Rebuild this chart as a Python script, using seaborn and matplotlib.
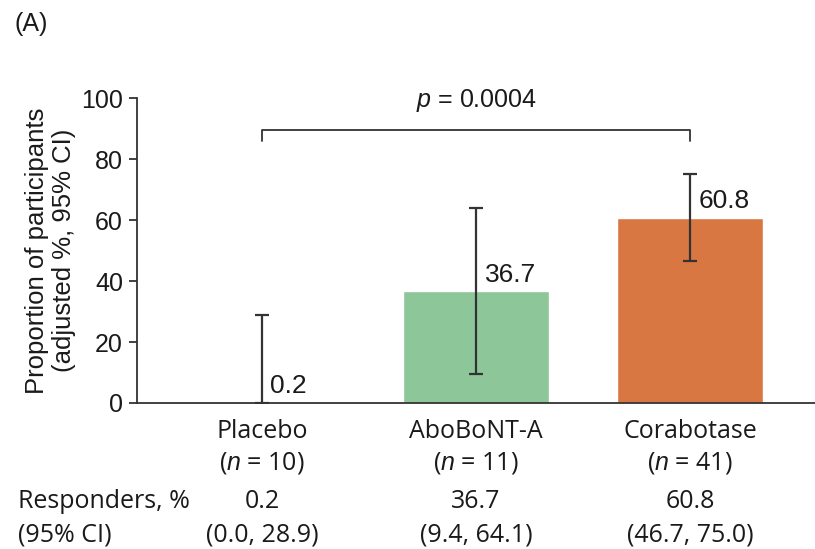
import numpy as np
import pandas as pd
import matplotlib
matplotlib.use('Agg')
import matplotlib.pyplot as plt
import matplotlib.transforms as mtransforms
import seaborn as sns

# data
groups = ['Placebo', 'AboBoNT-A', 'Corabotase']
n_per_group = [10, 11, 41]
responders = [0.2, 36.7, 60.8]
ci_low = [0.0, 9.4, 46.7]
ci_high = [28.9, 64.1, 75.0]
bar_colors = ['#d9d9d9', '#8dc799', '#d97742']
p_text = '0.0004'

sns.set_style('white')
plt.rcParams['font.family'] = ['Liberation Sans', 'DejaVu Sans']
plt.rcParams['mathtext.fontset'] = 'custom'
plt.rcParams['mathtext.it'] = 'Liberation Sans:italic'
plt.rcParams['mathtext.rm'] = 'Liberation Sans'

df = pd.DataFrame({'group': groups, 'pct': responders})
dark = '#333333'
txt = '#1a1a1a'

fig = plt.figure(figsize=(8.15, 5.49), dpi=100)
ax = fig.add_axes([0.168, 0.266, 0.832, 0.555])

sns.barplot(data=df, x='group', y='pct', hue='group', palette=bar_colors,
            width=0.68, saturation=1, legend=False, ax=ax, errorbar=None)

xpos = np.arange(len(groups))
yerr = [np.array(responders) - np.array(ci_low), np.array(ci_high) - np.array(responders)]
ax.errorbar(xpos, responders, yerr=yerr, fmt='none', ecolor=dark,
            elinewidth=1.6, capsize=5, capthick=1.6, zorder=5)

for x, v in zip(xpos, responders):
    ax.text(x + 0.04, v + 1.5, f'{v:.1f}', ha='left', va='bottom', fontsize=19, color=txt)

# significance bracket placebo vs corabotase
ax.plot([0, 0, 2, 2], [86, 89.5, 89.5, 86], color=dark, lw=1.3, clip_on=False)
ax.text(1, 99.3, f'$\\it{{p}}$ = {p_text}', ha='center', va='center', fontsize=18, color=txt)

ax.set_xlim(-0.584, 2.584)
ax.set_ylim(0, 100)
ax.set_yticks([0, 20, 40, 60, 80, 100])
ax.tick_params(axis='y', labelsize=18, length=6, width=1.3, color=dark, direction='out',
               left=True, labelcolor=txt, pad=4)
ax.tick_params(axis='x', bottom=False, labelbottom=False)
ax.set_xlabel('')
ax.set_ylabel('Proportion of participants\n(adjusted %, 95% CI)', fontsize=18.5,
              labelpad=4, color=txt, linespacing=1.15)
sns.despine(ax=ax)
for s in ['left', 'bottom']:
    ax.spines[s].set_color(dark)
    ax.spines[s].set_linewidth(1.3)

# labels under the bars and the responders table
low_font = ['Open Sans', 'Liberation Sans']
trans = mtransforms.blended_transform_factory(ax.transData, fig.transFigure)
for x, g, n, v, lo, hi in zip(xpos, groups, n_per_group, responders, ci_low, ci_high):
    ax.text(x, 1 - 432 / 549, g, transform=trans, ha='center', va='center', fontsize=18,
            family=low_font, color=txt)
    ax.text(x, 1 - 463 / 549, f'($\\it{{n}}$ = {n})', transform=trans, ha='center', va='center',
            fontsize=18, family=low_font, color=txt)
    ax.text(x, 1 - 502 / 549, f'{v:.1f}', transform=trans, ha='center', va='center', fontsize=18,
            family=low_font, color=txt)
    ax.text(x, 1 - 535 / 549, f'({lo:.1f}, {hi:.1f})', transform=trans, ha='center', va='center',
            fontsize=18, family=low_font, color=txt)

fig.text(18 / 815, 1 - 502 / 549, 'Responders, %', ha='left', va='center', fontsize=18,
         family=low_font, color=txt)
fig.text(18 / 815, 1 - 535 / 549, '(95% CI)', ha='left', va='center', fontsize=18,
         family=low_font, color=txt)
fig.text(14 / 815, 1 - 24 / 549, '(A)', ha='left', va='center', fontsize=18, color=txt)

fig.savefig('out.png', dpi=100)
